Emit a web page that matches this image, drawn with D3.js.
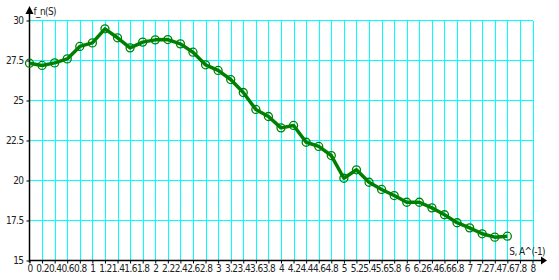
<!DOCTYPE html>
<html><head><meta charset="utf-8">
<script src="https://cdn.jsdelivr.net/npm/d3@7"></script>
<style>body{margin:0;background:#fff}svg{display:block}</style>
</head><body>
<svg id="c" width="559" height="280"></svg>
<script>
const sValues = [0,0.2,0.4,0.6,0.8,1.0,1.2,1.4,1.6,1.8,2.0,2.2,2.4,2.6,2.8,3.0,3.2,3.4,3.6,3.8,4.0,4.2,4.4,4.6,4.8,5.0,5.2,5.4,5.6,5.8,6.0,6.2,6.4,6.6,6.8,7.0,7.2,7.4,7.6];
const fnValues = [27.33,27.19,27.35,27.6,28.38,28.6,29.48,28.92,28.29,28.65,28.79,28.81,28.54,28.02,27.23,26.88,26.31,25.5,24.44,24.0,23.29,23.44,22.39,22.13,21.56,20.14,20.67,19.89,19.44,19.06,18.64,18.64,18.29,17.86,17.36,17.04,16.67,16.46,16.52];
const xTicks = d3.range(0, 41).map(i => +(i*0.2).toFixed(1));
const yTicks = [15,17.5,20,22.5,25,27.5,30];
const xLabel = "S, A^(-1)";
const yLabel = "f_n(S)";

const svg = d3.select("#c");
const x = d3.scaleLinear().domain([0,8]).range([29.5,532.5]);
const y = d3.scaleLinear().domain([15,30]).range([260.5,20.5]);

// grid
const g = svg.append("g").attr("shape-rendering","crispEdges");
g.selectAll(".vg").data(xTicks.slice(1)).join("line")
  .attr("x1",d=>Math.round(x(d))+0.5).attr("x2",d=>Math.round(x(d))+0.5)
  .attr("y1",y(30)).attr("y2",y(15))
  .attr("stroke","#00ffff").attr("stroke-width",1.3);
g.selectAll(".hg").data(yTicks.slice(1)).join("line")
  .attr("x1",x(0)).attr("x2",x(8))
  .attr("y1",d=>y(d)).attr("y2",d=>y(d))
  .attr("stroke","#00ffff").attr("stroke-width",1.3);

// axes
const xAxis = d3.axisBottom(x).tickValues(xTicks).tickSize(3).tickFormat(d=>d3.format("~g")(d));
const xg = svg.append("g").attr("transform",`translate(0,${y(15)})`).call(xAxis);
xg.select(".domain").remove();
xg.selectAll("text").attr("font-family","DejaVu Sans Condensed, DejaVu Sans, sans-serif").attr("font-size",10).attr("letter-spacing","-0.6").attr("dy","0.5em").attr("fill","#222");
xg.selectAll("line").attr("stroke","#000");
const yAxis = d3.axisLeft(y).tickValues(yTicks).tickSize(3).tickFormat(d=>d3.format("~g")(d));
const yg = svg.append("g").attr("transform",`translate(${x(0)},0)`).call(yAxis);
yg.select(".domain").remove();
yg.selectAll("text").attr("font-family","DejaVu Sans Condensed, DejaVu Sans, sans-serif").attr("font-size",10).attr("letter-spacing","-0.6").attr("fill","#222");
yg.selectAll("line").attr("stroke","#000");

svg.append("line").attr("x1",x(0)).attr("x2",541).attr("y1",y(15)).attr("y2",y(15)).attr("stroke","#000").attr("stroke-width",1.5);
svg.append("path").attr("d",`M541,${y(15)-4}L547,${y(15)}L541,${y(15)+4}Z`).attr("fill","#000");
svg.append("line").attr("x1",x(0)).attr("x2",x(0)).attr("y1",y(15)+2).attr("y2",12).attr("stroke","#000").attr("stroke-width",1.5);
svg.append("path").attr("d",`M${x(0)-4},14L${x(0)},6L${x(0)+4},14Z`).attr("fill","#000");

svg.append("text").attr("x",x(0)+4).attr("y",15).text(yLabel)
  .attr("font-family","DejaVu Sans Condensed, DejaVu Sans, sans-serif").attr("font-size",10).attr("letter-spacing","-0.6").attr("fill","#222");
svg.append("text").attr("x",545).attr("y",255).attr("text-anchor","end").text(xLabel)
  .attr("font-family","DejaVu Sans Condensed, DejaVu Sans, sans-serif").attr("font-size",10).attr("letter-spacing","-0.6").attr("fill","#222");

// data
const pts = sValues.map((s,i)=>[s,fnValues[i]]);
svg.append("path").datum(pts)
  .attr("d", d3.line().x(d=>x(d[0])).y(d=>y(d[1])))
  .attr("fill","none").attr("stroke","#008000").attr("stroke-width",3.5).attr("stroke-linejoin","round");
svg.selectAll(".pt").data(pts).join("circle")
  .attr("cx",d=>x(d[0])).attr("cy",d=>y(d[1])).attr("r",4)
  .attr("fill","none").attr("stroke","#008000").attr("stroke-width",1.3);
</script>
</body></html>
